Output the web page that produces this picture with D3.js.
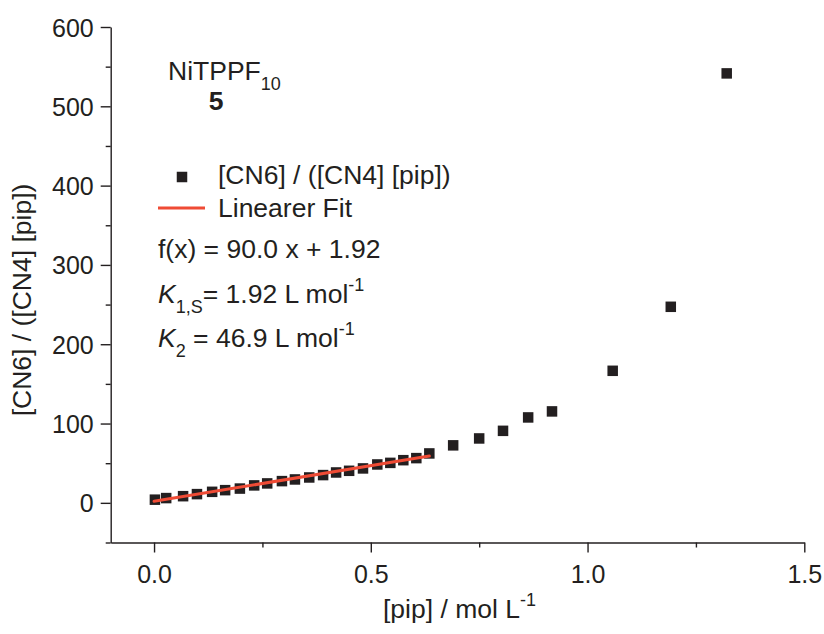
<!DOCTYPE html>
<html><head><meta charset="utf-8">
<script src="https://cdn.jsdelivr.net/npm/d3@7"></script>
<style>
body{margin:0;background:#fff}
text{font-family:"Liberation Sans",Arial,Helvetica,sans-serif;fill:#231f20}
</style>
</head><body>
<svg id="chart" width="824" height="634"></svg>
<script>
// ---- data ----
const pip   = [0.002, 0.028, 0.067, 0.099, 0.134, 0.164, 0.198, 0.231, 0.261, 0.295, 0.325,
               0.358, 0.390, 0.420, 0.450, 0.482, 0.515, 0.545, 0.575, 0.605, 0.635,
               0.690, 0.750, 0.805, 0.863, 0.918, 1.058, 1.192, 1.321];
const ratio = [4.0, 6.0, 8.4, 11.0, 13.9, 16.0, 18.0, 22.0, 24.5, 27.4, 29.5,
               32.0, 35.0, 38.3, 40.4, 43.4, 48.4, 50.4, 53.8, 56.4, 62.3,
               72.5, 81.2, 90.8, 107.7, 115.3, 166.5, 247.2, 541.5];
const fitSlope = 90.0, fitIntercept = 1.92;
const fitRange = [0, 0.635];
const xTicks = [0, 0.5, 1.0, 1.5];
const xMinor = [0.25, 0.75, 1.25];
const yTicks = [0, 100, 200, 300, 400, 500, 600];
const yMinor = [-50, 50, 150, 250, 350, 450, 550];
const xDomain = [-0.1, 1.5], yDomain = [-50, 600];

const ink = "#231f20", red = "#ef4b35";
const fs = 26.5, fsSub = 18;
const svg = d3.select("#chart");
const x = d3.scaleLinear().domain(xDomain).range([110.7, 804.3]);
const y = d3.scaleLinear().domain(yDomain).range([542.5, 27]);

// axes
const gx = svg.append("g").attr("transform", `translate(0,${y(-50)})`);
gx.call(d3.axisBottom(x).tickValues(xTicks).tickSize(10).tickSizeOuter(0).tickFormat(d3.format(".1f")));
gx.append("g").call(d3.axisBottom(x).tickValues(xMinor).tickSize(5).tickFormat(""));
const gy = svg.append("g").attr("transform", `translate(${x(-0.1)},0)`);
gy.call(d3.axisLeft(y).tickValues(yTicks).tickSize(10).tickSizeOuter(0).tickFormat(d3.format("d")));
gy.append("g").call(d3.axisLeft(y).tickValues(yMinor).tickSize(5).tickFormat(""));
svg.selectAll(".domain").attr("stroke", ink).attr("stroke-width", 1.4);
svg.selectAll(".tick line").attr("stroke", ink).attr("stroke-width", 1.4);
svg.selectAll("g g .domain").remove();
gx.selectAll(".tick text").attr("font-size", 25).attr("dy", 0).attr("y", 40);
gy.selectAll(".tick text").attr("font-size", 25).attr("x", -17).attr("dy", "0.36em");
svg.selectAll(".tick text").style("fill", ink).attr("font-family", null);

// data squares
const s = 10.5;
svg.append("g").selectAll("rect").data(pip).join("rect")
  .attr("x", (d) => x(d) - s/2)
  .attr("y", (d, i) => y(ratio[i]) - s/2)
  .attr("width", s).attr("height", s).attr("fill", ink);

// fit line
svg.append("line")
  .attr("x1", x(fitRange[0])).attr("y1", y(fitSlope*fitRange[0] + fitIntercept))
  .attr("x2", x(fitRange[1])).attr("y2", y(fitSlope*fitRange[1] + fitIntercept))
  .attr("stroke", red).attr("stroke-width", 3).attr("stroke-linecap", "round");

// axis titles
const xt = svg.append("text").attr("x", 383).attr("y", 618).attr("font-size", fs);
xt.append("tspan").text("[pip] / mol L");
xt.append("tspan").attr("dy", -12).attr("font-size", fsSub).text("-1");
svg.append("text").attr("transform", "translate(31,300) rotate(-90)")
  .attr("text-anchor", "middle").attr("font-size", fs).text("[CN6] / ([CN4] [pip])");

// compound label
const nt = svg.append("text").attr("x", 168).attr("y", 80).attr("font-size", fs);
nt.append("tspan").text("NiTPPF");
nt.append("tspan").attr("dy", 10).attr("font-size", fsSub).text("10");
svg.append("text").attr("x", 216).attr("y", 110).attr("text-anchor", "middle")
  .attr("font-size", fs).attr("font-weight", "bold").text("5");

// legend
svg.append("rect").attr("x", 182 - s/2).attr("y", 177 - s/2).attr("width", s).attr("height", s).attr("fill", ink);
svg.append("text").attr("x", 218).attr("y", 184).attr("font-size", fs).text("[CN6] / ([CN4] [pip])");
svg.append("line").attr("x1", 158).attr("x2", 205).attr("y1", 208).attr("y2", 208)
  .attr("stroke", red).attr("stroke-width", 3);
svg.append("text").attr("x", 218).attr("y", 217).attr("font-size", fs).text("Linearer Fit");

svg.append("text").attr("x", 158).attr("y", 258).attr("font-size", fs).text("f(x) = 90.0 x + 1.92");
const k1 = svg.append("text").attr("x", 158).attr("y", 303).attr("font-size", fs);
k1.append("tspan").attr("font-style", "italic").text("K");
k1.append("tspan").attr("dy", 10).attr("font-size", fsSub).text("1,S");
k1.append("tspan").attr("dy", -10).text("= 1.92 L mol");
k1.append("tspan").attr("dy", -12).attr("font-size", fsSub).text("-1");
const k2 = svg.append("text").attr("x", 158).attr("y", 347).attr("font-size", fs);
k2.append("tspan").attr("font-style", "italic").text("K");
k2.append("tspan").attr("dy", 10).attr("font-size", fsSub).text("2");
k2.append("tspan").attr("dy", -10).text(" = 46.9 L mol");
k2.append("tspan").attr("dy", -12).attr("font-size", fsSub).text("-1");
</script>
</body></html>
